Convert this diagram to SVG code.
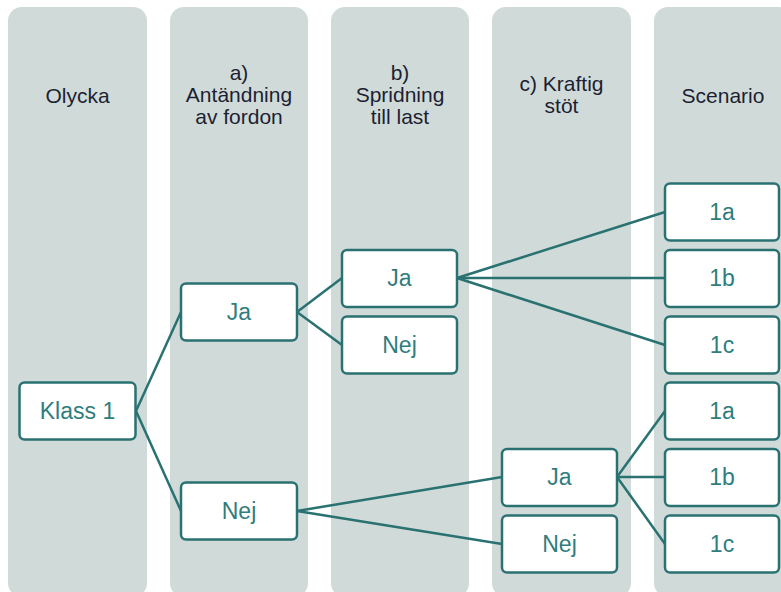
<svg xmlns="http://www.w3.org/2000/svg" width="781" height="592" viewBox="0 0 781 592">
<style>
.col{fill:#d0dbd9}
.hdr{font-family:"Liberation Sans",Arial,sans-serif;font-size:21px;fill:#1c1f33;text-anchor:middle}
.box{fill:#fff;stroke:#2a7272;stroke-width:2.5}
.lbl{font-family:"Liberation Sans",Arial,sans-serif;font-size:23px;fill:#2f7d7d;text-anchor:middle}
.con line{stroke:#2a7272;stroke-width:2.5}
</style>
<rect width="781" height="592" fill="#fff"/>
<g id="columns">
<rect class="col" x="8" y="7" width="139" height="590" rx="14"/>
<rect class="col" x="170" y="7" width="138" height="590" rx="14"/>
<rect class="col" x="331" y="7" width="138" height="590" rx="14"/>
<rect class="col" x="492" y="7" width="139" height="590" rx="14"/>
<rect class="col" x="654" y="7" width="139" height="590" rx="14"/>
</g>
<g id="headers">
<text class="hdr" x="77.5" y="103">Olycka</text>
<text class="hdr" x="239" y="80">a)</text>
<text class="hdr" x="239" y="102">Antändning</text>
<text class="hdr" x="239" y="124">av fordon</text>
<text class="hdr" x="400" y="80">b)</text>
<text class="hdr" x="400" y="102">Spridning</text>
<text class="hdr" x="400" y="124">till last</text>
<text class="hdr" x="561.5" y="91">c) Kraftig</text>
<text class="hdr" x="561.5" y="113">stöt</text>
<text class="hdr" x="723" y="103">Scenario</text>
</g>
<g id="connectors" class="con">
<line x1="136" y1="411" x2="181" y2="312"/>
<line x1="136" y1="411" x2="181" y2="511"/>
<line x1="297" y1="312" x2="342" y2="278"/>
<line x1="297" y1="312" x2="342" y2="345"/>
<line x1="457" y1="278" x2="665" y2="212"/>
<line x1="457" y1="278" x2="665" y2="278"/>
<line x1="457" y1="278" x2="665" y2="345"/>
<line x1="297" y1="511" x2="502" y2="477"/>
<line x1="297" y1="511" x2="502" y2="544"/>
<line x1="617" y1="477" x2="665" y2="411"/>
<line x1="617" y1="477" x2="665" y2="477"/>
<line x1="617" y1="477" x2="665" y2="544"/>
</g>
<g id="klass1"><rect class="box" x="19.5" y="382.5" width="116" height="57" rx="5"/><text class="lbl" x="77.5" y="419">Klass 1</text></g>
<g id="a_ja"><rect class="box" x="181" y="283.5" width="116" height="57" rx="5"/><text class="lbl" x="239" y="320">Ja</text></g>
<g id="a_nej"><rect class="box" x="181" y="482.5" width="116" height="57" rx="5"/><text class="lbl" x="239" y="519">Nej</text></g>
<g id="b_ja"><rect class="box" x="342" y="250" width="115" height="57" rx="5"/><text class="lbl" x="399.5" y="286">Ja</text></g>
<g id="b_nej"><rect class="box" x="342" y="316.5" width="115" height="57" rx="5"/><text class="lbl" x="399.5" y="353">Nej</text></g>
<g id="c_ja"><rect class="box" x="502" y="449" width="115" height="57" rx="5"/><text class="lbl" x="559.5" y="485">Ja</text></g>
<g id="c_nej"><rect class="box" x="502" y="515.5" width="115" height="57" rx="5"/><text class="lbl" x="559.5" y="552">Nej</text></g>
<g id="s1a"><rect class="box" x="665" y="183.5" width="114" height="57" rx="5"/><text class="lbl" x="722" y="220">1a</text></g>
<g id="s1b"><rect class="box" x="665" y="250" width="114" height="57" rx="5"/><text class="lbl" x="722" y="286">1b</text></g>
<g id="s1c"><rect class="box" x="665" y="316.5" width="114" height="57" rx="5"/><text class="lbl" x="722" y="353">1c</text></g>
<g id="s2a"><rect class="box" x="665" y="382.5" width="114" height="57" rx="5"/><text class="lbl" x="722" y="419">1a</text></g>
<g id="s2b"><rect class="box" x="665" y="449" width="114" height="57" rx="5"/><text class="lbl" x="722" y="485">1b</text></g>
<g id="s2c"><rect class="box" x="665" y="515.5" width="114" height="57" rx="5"/><text class="lbl" x="722" y="552">1c</text></g>
</svg>
